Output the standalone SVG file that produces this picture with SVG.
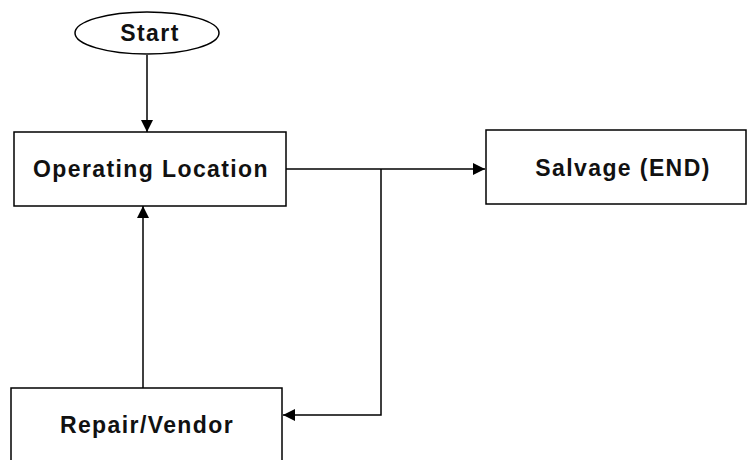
<svg xmlns="http://www.w3.org/2000/svg" width="747" height="460" viewBox="0 0 747 460">
<defs>
<style>
.box{fill:#fff;stroke:#000;stroke-width:1.5}
.lbl{font-family:"Liberation Sans",Arial,sans-serif;font-weight:bold;font-size:23px;letter-spacing:1.4px;text-anchor:middle;fill:#111}
.edge{fill:none;stroke:#000;stroke-width:1.5}
</style>
<marker id="ah" viewBox="0 0 12 12" refX="12" refY="6" markerWidth="12" markerHeight="12" markerUnits="userSpaceOnUse" orient="auto">
<path d="M0,0 L12,6 L0,12 Z" fill="#000"/>
</marker>
</defs>
<rect width="747" height="460" fill="#fff"/>
<g id="connectors">
<path class="edge" d="M147,55 V132" marker-end="url(#ah)"/>
<path class="edge" d="M143,388 V206" marker-end="url(#ah)"/>
<path class="edge" d="M286,169 H485" marker-end="url(#ah)"/>
<path class="edge" d="M381,169 V415 H283" marker-end="url(#ah)"/>
</g>
<g id="start">
<ellipse class="box" cx="147" cy="33" rx="72" ry="21"/>
<text class="lbl" x="150" y="41">Start</text>
</g>
<g id="operating">
<rect class="box" x="14" y="132" width="272" height="74"/>
<text class="lbl" x="151" y="177">Operating Location</text>
</g>
<g id="salvage">
<rect class="box" x="486" y="130" width="260" height="74"/>
<text class="lbl" x="623" y="176">Salvage (END)</text>
</g>
<g id="repair">
<rect class="box" x="11" y="388" width="271" height="80"/>
<text class="lbl" x="147" y="433">Repair/Vendor</text>
</g>
</svg>
